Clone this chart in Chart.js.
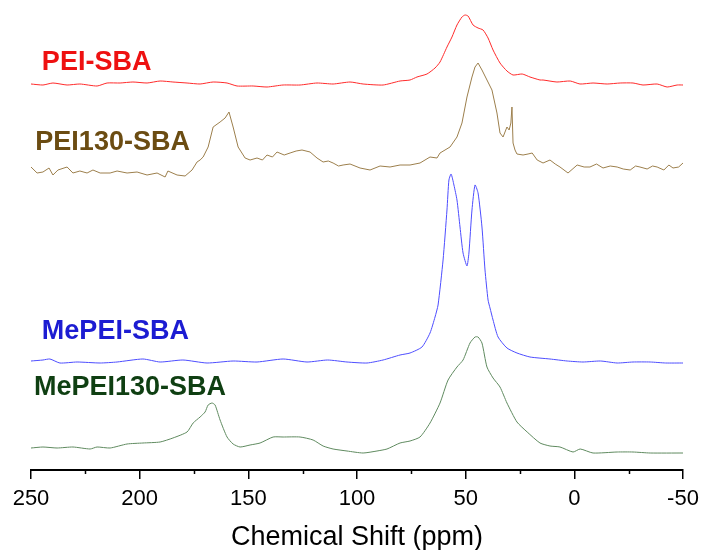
<!DOCTYPE html>
<html>
<head>
<meta charset="utf-8">
<script src="https://cdn.jsdelivr.net/npm/chart.js@4.4.1/dist/chart.umd.min.js"></script>
<style>
  html, body { margin: 0; padding: 0; background: #fff; }
  #wrap { width: 701px; height: 550px; }
</style>
</head>
<body>
<div id="wrap"><canvas id="nmr" width="701" height="550"></canvas></div>
<script>
// 13C CP-MAS spectra, chemical shift in ppm, intensity in arbitrary units
const peiShift = [250, 244.5, 239.9, 233.4, 227.5, 219.6, 215, 209, 203.1, 196.6, 190.6, 184.7, 178.2, 172.2, 166.2, 159.8, 155.2, 147.8, 141.4, 134, 126.2, 118.4, 111, 103.2, 97.2, 88, 80.2,
  75.6, 72.4, 67.8, 64.1, 61.8, 58.6, 56.3, 54, 51.7, 50.3, 48.9, 46.6, 44.3, 42, 39.7, 37.4, 34.2, 31, 28.2, 24, 20.4, 15.8,
  14.4, 8, 1.9, -2.6, -8.6, -15.1, -21.1, -27, -31.6, -38.1, -42.7, -47.3, -50];
const peiInt = [0, -1, 1, -1, 0, -2, 1, 1, 2, 1, 3, 2, 1, 0, 2, 1, -2, -2, -3, -1, -1, 1, 0, 2, 0, -1, 3,
  4, 7, 10, 16, 22, 37, 47, 59, 67, 69, 68, 59, 56, 54, 46, 34, 21, 13, 9, 10, 7, 4,
  4, 2, 3, 0, 1, 0, 1, 1, -1, 0, -3, -1, -1];

const pei130Shift = [250, 247.2, 244.5, 241.7, 239.9, 237.6, 233.4, 230.7, 227.5, 224.2, 221.5, 218.2, 213.6, 210.4, 205.8, 201.2, 196.6, 192, 188.3, 187, 182.8, 179.1, 175.9, 173.6, 172.2,
  170.8, 168.5, 166.2, 163, 160.7, 158.9, 157, 154.7, 151.5, 149.2, 146, 143.5, 141.4, 138.9, 136.8, 133.5, 130.8, 128, 125.3, 121.6, 118.4, 115.6, 113.2, 111, 108.5, 106.4,
  103.2, 98.6, 94, 89.4, 84.8, 80.2, 75.6, 71, 66.4, 63.2, 61.8, 57.2, 54, 51.7, 49.4, 47.1, 45.7, 44.3, 42.5, 40.2, 37.9, 35.6, 34.2, 32.8, 31, 30, 29.2, 28.7, 28.2, 27.3, 26.4,
  23.6, 21.3, 19.4, 17.1, 14.4, 11.2, 8.8, 6.6, 2.9, -1.3, -4.5, -7.2, -10.2, -13.2, -16.5, -19.7, -22.5, -25.7, -28.2, -30.2, -33.5, -36, -38.1, -41.2, -43.5, -45.4, -48, -50];
const pei130Int = [0, -6, -5, -1, -8, -3, 0, -6, -4, -6, -3, -6, -6, -4, -6, -5, -8, -6, -10, -4, -8, -9, -3, 5, 7,
  10, 20, 40, 45, 49, 55, 40, 20, 9, 7, 9, 7, 12, 10, 15, 12, 14, 16, 17, 15, 9, 5, 6, 4, 1, 2,
  3, -1, -3, 1, 0, 2, 2, 4, 10, 9, 14, 20, 30, 44, 70, 90, 100, 104, 97, 87, 77, 54, 34, 30, 40, 37, 44, 60, 24, 17, 13,
  12, 13, 14, 7, 4, 7, 3, 0, -6, 2, 0, 0, 3, -1, 1, 0, -2, -3, 1, 0, -2, 1, 0, -3, 2, -1, 0, 4];

const mepeiShift = [250, 244.5, 241.3, 236.7, 228.8, 218.2, 210.4, 198.5, 190.6, 180.1, 169, 157, 146, 134, 123, 113.5, 104.6, 95.4, 88, 80.2, 75.6, 70.1, 66.4, 64.1, 62.7,
  60.4, 58.6, 57.7, 56.7, 55.4, 54, 52.6, 51.2, 49.4, 48.5, 47.1, 45.7, 44.3, 42.5, 41.1, 39.7, 38.8, 37.4, 35.1, 31, 26.4, 20.4, 11.2, 3.3, -4, -12, -19.7, -27, -34.9, -42, -50];
const mepeiInt = [0, 1, 2, -2, -1, -2, -1, 2, -1, 1, -2, 0, -1, 2, -1, 1, -1, -2, 1, 6, 8, 14, 28, 44, 56,
  101, 151, 181, 187, 176, 161, 134, 108, 95, 108, 151, 176, 168, 134, 91, 61, 53, 41, 24, 13, 8, 4, 2, 0, -1, 0, -2, -1, -1, -2, -2];

const mepei130Shift = [250, 244.5, 238, 230.7, 222.8, 219.6, 213.6, 205.8, 198.5, 190.6, 184.7, 178.2, 175.4, 172.2, 169.9, 168.5, 166.7, 165.3, 163, 159.8, 157, 153.8, 149.2, 144.6, 138.6,
  134, 126.2, 120.2, 115.6, 111, 104.6, 97.2, 90.8, 86.2, 80.2, 75.6, 71, 66.4, 61.8, 58.1, 54, 51.2, 48, 45.7, 44.3, 42.5, 40.2, 37.4, 34.2, 31, 26.4, 21.7, 15.8, 11.2, 6.6, 0.6,
  -2.7, -8.6, -19.7, -27, -34.9, -50];
const mepei130Int = [1, 2, 1, 2, 0, 2, 1, 5, 6, 7, 11, 17, 26, 32, 37, 44, 46, 44, 29, 12, 5, 2, 4, 6, 12,
  12, 12, 9, 3, 0, -2, -4, -2, 0, 6, 8, 12, 26, 46, 69, 82, 89, 106, 112, 112, 106, 82, 71, 62, 46, 27, 17, 6, 3, 2, -3,
  0, -4, -3, -3, -4, -4];

// vertical stacking of the four traces
const baselines = [386, 303, 109, 21];
const names = ['PEI-SBA', 'PEI130-SBA', 'MePEI-SBA', 'MePEI130-SBA'];
const lineColors = ['#ff2a2a', '#9c7f4c', '#4d4dff', '#5f8a5f'];
const textColors = ['#ee1111', '#6b4c12', '#1c1cd2', '#0f3f12'];
const smoothing = [0.2, 0, 0.2, 0.2];
// label anchor: ppm of left edge, y value of text middle
const labelPpm = [245, 248, 245, 248.6];
const labelY = [407, 327, 138, 82];

const xTicks = [250, 200, 150, 100, 50, 0, -50];
const minorTicks = [225, 175, 125, 75, 25, -25];

function series(shift, inten, base) {
  return shift.map((s, i) => ({ x: s, y: base + inten[i] }));
}

const allShift = [peiShift, pei130Shift, mepeiShift, mepei130Shift];
const allInt = [peiInt, pei130Int, mepeiInt, mepei130Int];

const datasets = names.map((n, i) => ({
  label: n,
  data: series(allShift[i], allInt[i], baselines[i]),
  borderColor: lineColors[i],
  borderWidth: 1,
  pointRadius: 0,
  tension: smoothing[i],
  fill: false
}));

const extras = {
  id: 'extras',
  afterDraw(chart) {
    const ctx = chart.ctx;
    const x = chart.scales.x, y = chart.scales.y;
    const bottom = chart.chartArea.bottom;
    ctx.save();
    // short minor ticks
    ctx.strokeStyle = '#000';
    ctx.lineWidth = 1.5;
    minorTicks.forEach(v => {
      const px = Math.round(x.getPixelForValue(v)) + 0.5;
      ctx.beginPath();
      ctx.moveTo(px, bottom);
      ctx.lineTo(px, bottom + 4);
      ctx.stroke();
    });
    // trace names
    ctx.font = 'bold 27px "Liberation Sans", Arial, sans-serif';
    ctx.textAlign = 'left';
    ctx.textBaseline = 'middle';
    names.forEach((n, i) => {
      ctx.fillStyle = textColors[i];
      ctx.fillText(n, x.getPixelForValue(labelPpm[i]), y.getPixelForValue(labelY[i]));
    });
    ctx.restore();
  }
};

new Chart(document.getElementById('nmr'), {
  type: 'line',
  data: { datasets },
  options: {
    responsive: false,
    animation: false,
    devicePixelRatio: 1,
    layout: { padding: { left: 31, right: 18, top: 0, bottom: 0 } },
    plugins: { legend: { display: false }, tooltip: { enabled: false } },
    scales: {
      x: {
        type: 'linear',
        reverse: true,
        min: -50,
        max: 250,
        afterBuildTicks(scale) {
          scale.ticks = xTicks.map(v => ({ value: v }));
        },
        afterFit(scale) {
          scale.height = 80;
          scale.paddingLeft = 0;
          scale.paddingRight = 0;
        },
        grid: { drawOnChartArea: false, drawTicks: true, tickLength: 9, color: '#000', lineWidth: 1.5 },
        border: { display: true, color: '#000', width: 2 },
        ticks: {
          color: '#000',
          padding: 7,
          maxRotation: 0,
          autoSkip: false,
          font: { family: '"Liberation Sans", Arial, sans-serif', size: 22 }
        },
        title: {
          display: true,
          text: 'Chemical Shift (ppm)',
          color: '#000',
          padding: { top: 0, bottom: 0 },
          font: { family: '"Liberation Sans", Arial, sans-serif', size: 27, lineHeight: 0.9 }
        }
      },
      y: { display: false, min: 0, max: 470 }
    }
  },
  plugins: [extras]
});
</script>
</body>
</html>
